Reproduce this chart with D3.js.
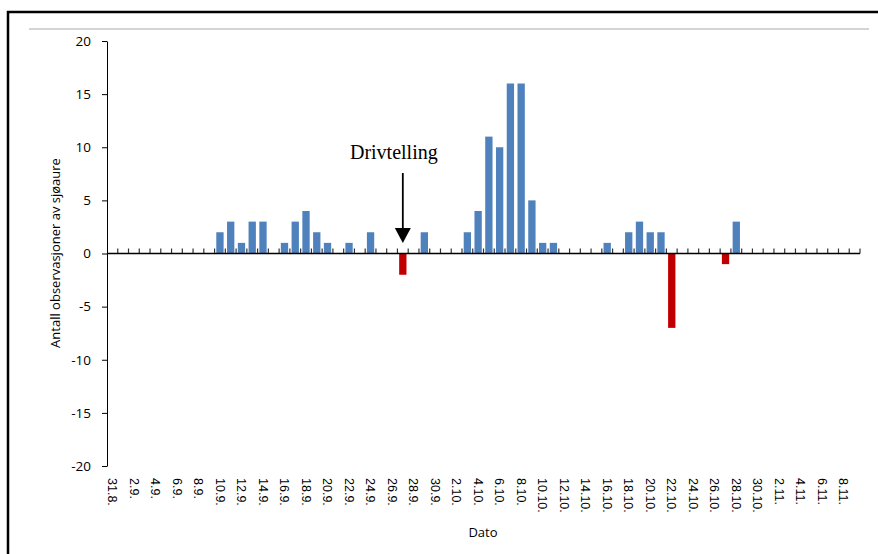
<!DOCTYPE html>
<html>
<head>
<meta charset="utf-8">
<script src="https://cdn.jsdelivr.net/npm/d3@7"></script>
<style>
  html, body { margin: 0; padding: 0; background: #fff; }
  svg { display: block; }
</style>
</head>
<body>
<svg id="chart" width="878" height="554"></svg>
<script>
// ---- Data ----
const dates = [
  "31.8.",
  "1.9.","2.9.","3.9.","4.9.","5.9.","6.9.","7.9.","8.9.","9.9.","10.9.",
  "11.9.","12.9.","13.9.","14.9.","15.9.","16.9.","17.9.","18.9.","19.9.","20.9.",
  "21.9.","22.9.","23.9.","24.9.","25.9.","26.9.","27.9.","28.9.","29.9.","30.9.",
  "1.10.","2.10.","3.10.","4.10.","5.10.","6.10.","7.10.","8.10.","9.10.","10.10.",
  "11.10.","12.10.","13.10.","14.10.","15.10.","16.10.","17.10.","18.10.","19.10.","20.10.",
  "21.10.","22.10.","23.10.","24.10.","25.10.","26.10.","27.10.","28.10.","29.10.","30.10.",
  "1.11.","2.11.","3.11.","4.11.","5.11.","6.11.","7.11.","8.11.","9.11."
];
// Observations moving up (blue)
const upValues = [
  0,0,0,0,0,0,0,0,0,0,
  2,3,1,3,3,0,1,3,4,2,
  1,0,1,0,2,0,0,0,0,2,
  0,0,0,2,4,11,10,16,16,5,
  1,1,0,0,0,0,1,0,2,3,
  2,2,0,0,0,0,0,0,3,0,
  0,0,0,0,0,0,0,0,0,0
];
// Observations moving down (red)
const downValues = [
  0,0,0,0,0,0,0,0,0,0,
  0,0,0,0,0,0,0,0,0,0,
  0,0,0,0,0,0,0,-2,0,0,
  0,0,0,0,0,0,0,0,0,0,
  0,0,0,0,0,0,0,0,0,0,
  0,0,-7,0,0,0,0,-1,0,0,
  0,0,0,0,0,0,0,0,0,0
];
const yTicks = [-20,-15,-10,-5,0,5,10,15,20];
const annotationText = "Drivtelling";
const annotationDate = "27.9.";
const yTitle = "Antall observasjoner av sjøaure";
const xTitle = "Dato";

// ---- Layout ----
const svg = d3.select("#chart");
const plot = { left: 107, right: 860, top: 41, bottom: 466 };

const x = d3.scaleBand().domain(dates).range([plot.left, plot.right])
  .paddingInner(0.32).paddingOuter(0.16);
const y = d3.scaleLinear().domain([-20, 20]).range([plot.bottom, plot.top]);

// Outer frame and top gray line
svg.append("rect").attr("x", 8).attr("y", 12).attr("width", 900).attr("height", 600)
  .attr("fill", "none").attr("stroke", "#000").attr("stroke-width", 2.5);
svg.append("line").attr("x1", 29).attr("x2", 869).attr("y1", 29).attr("y2", 29)
  .attr("stroke", "#c6c6c6").attr("stroke-width", 1.5);

// Bars
const upData = dates.map((d, i) => ({ d, v: upValues[i] })).filter(o => o.v !== 0);
const downData = dates.map((d, i) => ({ d, v: downValues[i] })).filter(o => o.v !== 0);

function drawBars(data, color) {
  svg.append("g").selectAll("rect").data(data).join("rect")
    .attr("x", o => x(o.d))
    .attr("width", x.bandwidth())
    .attr("y", o => y(Math.max(0, o.v)))
    .attr("height", o => Math.abs(y(o.v) - y(0)))
    .attr("fill", color);
}
drawBars(upData, "#4f81bd");
drawBars(downData, "#c00000");

// Y axis
const yAxis = svg.append("g").attr("transform", `translate(${plot.left},0)`)
  .call(d3.axisLeft(y).tickValues(yTicks).tickSize(5).tickSizeOuter(0).tickPadding(11)
    .tickFormat(v => String(v)));
yAxis.select(".domain").attr("stroke", "#000").attr("stroke-width", 1);
yAxis.selectAll(".tick line").attr("stroke", "#000");
yAxis.selectAll("text").attr("font-family", "'Open Sans', 'Noto Sans', sans-serif")
  .attr("font-size", 13.5).attr("fill", "#000");

// X axis line at zero with boundary ticks pointing up
const step = x.step();
const gap = step - x.bandwidth();
const boundaries = dates.map(d => x(d) - gap / 2).concat([x(dates[dates.length - 1]) + x.bandwidth() + gap / 2]);
const xg = svg.append("g");
xg.selectAll("line.tk").data(boundaries.slice(1)).join("line").attr("class", "tk")
  .attr("x1", b => b).attr("x2", b => b)
  .attr("y1", y(0)).attr("y2", y(0) - 5)
  .attr("stroke", "#333").attr("stroke-width", 1.2);
xg.append("line").attr("x1", plot.left).attr("x2", boundaries[boundaries.length - 1])
  .attr("y1", y(0)).attr("y2", y(0)).attr("stroke", "#000").attr("stroke-width", 1.6);

// X tick labels (every other category) at the bottom
const xLab = svg.append("g").attr("transform", `translate(0,${plot.bottom})`)
  .call(d3.axisBottom(x).tickSize(0).tickFormat((d, i) => i % 2 === 0 ? d : ""));
xLab.select(".domain").remove();
xLab.selectAll("text")
  .attr("transform", "rotate(90)")
  .attr("x", 12).attr("y", 0).attr("dy", "0.35em")
  .attr("text-anchor", "start")
  .attr("font-family", "'Liberation Sans', Arial, sans-serif")
  .attr("font-size", 12.5).attr("fill", "#000");

// Axis titles
svg.append("text").attr("transform", `translate(60,253) rotate(-90)`)
  .attr("text-anchor", "middle")
  .attr("font-family", "'Open Sans', 'Noto Sans', sans-serif").attr("font-size", 13)
  .text(yTitle);
svg.append("text").attr("x", 483).attr("y", 537).attr("text-anchor", "middle")
  .attr("font-family", "'Open Sans', 'Noto Sans', sans-serif").attr("font-size", 13)
  .text(xTitle);

// Annotation
const ax = x(annotationDate) + x.bandwidth() / 2;
svg.append("text").attr("x", ax - 9).attr("y", 159).attr("text-anchor", "middle")
  .attr("font-family", "'Liberation Serif', 'Times New Roman', serif").attr("font-size", 20)
  .text(annotationText);
svg.append("line").attr("x1", ax).attr("x2", ax).attr("y1", 173).attr("y2", 230)
  .attr("stroke", "#000").attr("stroke-width", 1.8);
svg.append("path")
  .attr("d", `M${ax - 8},228 L${ax + 8},228 L${ax},243 Z`)
  .attr("fill", "#000");
</script>
</body>
</html>
